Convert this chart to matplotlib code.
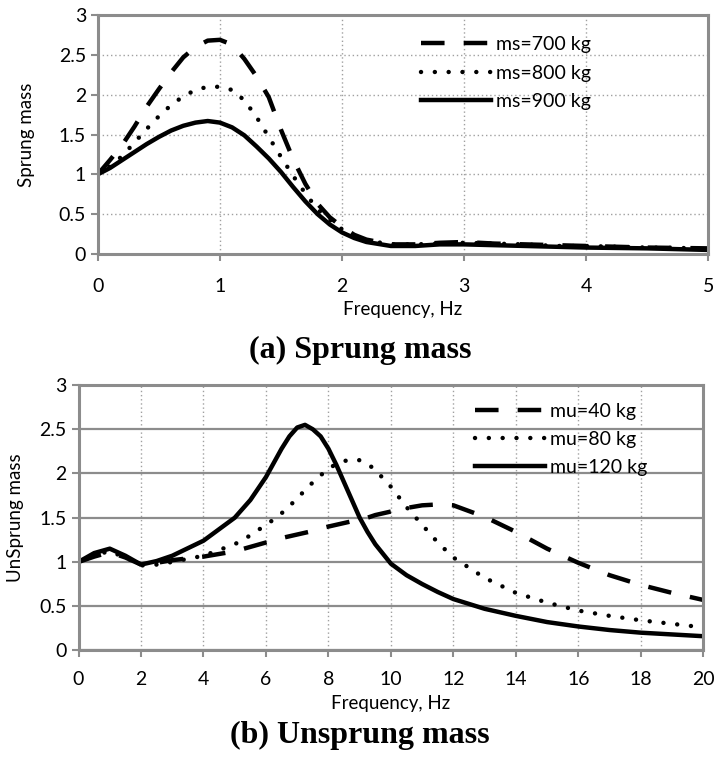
import numpy as np
import matplotlib
matplotlib.use("Agg")
import matplotlib.pyplot as plt

# ---- data ----
freq_a = [0, 0.1, 0.2, 0.3, 0.4, 0.5, 0.6, 0.7, 0.8, 0.9, 1.0, 1.1, 1.2, 1.3, 1.4, 1.5,
          1.6, 1.7, 1.8, 1.9, 2.0, 2.1, 2.2, 2.4, 2.6, 2.8, 3.0, 3.25, 3.5, 3.75, 4.0, 4.5, 5.0]
ms700 = [1.0, 1.18, 1.37, 1.6, 1.85, 2.07, 2.28, 2.47, 2.6, 2.68, 2.69, 2.63, 2.45, 2.23, 1.97, 1.56,
         1.19, 0.88, 0.63, 0.46, 0.34, 0.24, 0.18, 0.12, 0.12, 0.14, 0.15, 0.13, 0.12, 0.11, 0.1, 0.08, 0.07]
ms800 = [1.0, 1.1, 1.23, 1.4, 1.57, 1.73, 1.87, 1.98, 2.06, 2.1, 2.1, 2.06, 1.93, 1.72, 1.47, 1.22,
         0.98, 0.76, 0.56, 0.43, 0.31, 0.22, 0.17, 0.12, 0.12, 0.13, 0.14, 0.13, 0.12, 0.1, 0.1, 0.08, 0.07]
ms900 = [1.0, 1.08, 1.18, 1.28, 1.38, 1.47, 1.55, 1.61, 1.65, 1.67, 1.65, 1.59, 1.49, 1.35, 1.2, 1.03,
         0.84, 0.66, 0.5, 0.37, 0.27, 0.2, 0.15, 0.1, 0.1, 0.12, 0.12, 0.11, 0.1, 0.09, 0.08, 0.07, 0.05]

freq_b = [0, 0.5, 1, 1.5, 2, 2.5, 3, 4, 5, 5.5, 6, 6.25, 6.5, 6.75, 7, 7.25, 7.5, 7.75, 8,
          8.25, 8.5, 8.75, 9, 9.25, 9.5, 10, 10.5, 11, 11.5, 12, 13, 14, 15, 16, 17, 18, 19, 20]
mu40 = [1.0, 1.06, 1.11, 1.05, 0.97, 0.99, 1.02, 1.06, 1.12, 1.17, 1.22, 1.24, 1.27, 1.29, 1.31,
        1.33, 1.35, 1.38, 1.4, 1.42, 1.44, 1.46, 1.48, 1.5, 1.53, 1.57, 1.61, 1.64, 1.65, 1.64,
        1.51, 1.34, 1.15, 0.99, 0.85, 0.74, 0.65, 0.57]
mu80 = [1.0, 1.08, 1.12, 1.05, 0.96, 0.97, 1.0, 1.07, 1.2, 1.3, 1.42, 1.48, 1.55, 1.63, 1.72,
        1.81, 1.9, 1.98, 2.05, 2.11, 2.14, 2.16, 2.15, 2.11, 2.04, 1.85, 1.62, 1.42, 1.22, 1.05,
        0.82, 0.65, 0.54, 0.45, 0.39, 0.34, 0.3, 0.26]
mu120 = [1.0, 1.1, 1.15, 1.07, 0.97, 1.01, 1.07, 1.24, 1.5, 1.7, 1.96, 2.12, 2.28, 2.42, 2.52,
         2.55, 2.5, 2.42, 2.28, 2.1, 1.9, 1.7, 1.5, 1.34, 1.2, 0.98, 0.85, 0.75, 0.66, 0.58,
         0.47, 0.39, 0.32, 0.27, 0.23, 0.2, 0.18, 0.16]

labels_a = ["ms=700 kg", "ms=800 kg", "ms=900 kg"]
labels_b = ["mu=40 kg", "mu=80 kg", "mu=120 kg"]
ytick_labels = ["0", "0.5", "1", "1.5", "2", "2.5", "3"]

# ---- styles ----
font = "Lato"
gray = "#8c8c8c"
dashed = (0, (5.3, 4.3))
dotted = (0, (0.01, 3.1))
lw = 3.2


def style_axes(ax, solid_hgrid, xpad):
    for s in ax.spines.values():
        s.set_color(gray)
        s.set_linewidth(2.2)
    ax.tick_params(colors=gray, width=1.5, length=5, labelcolor="black", labelsize=14)
    ax.tick_params(axis="x", pad=xpad)
    for lab in ax.get_xticklabels() + ax.get_yticklabels():
        lab.set_fontfamily(font)
    ax.xaxis.grid(True, color="#a0a0a0", linestyle=(0, (1, 2)), linewidth=1)
    if solid_hgrid:
        ax.yaxis.grid(True, color=gray, linestyle="-", linewidth=1.6)
    else:
        ax.yaxis.grid(True, color="#a0a0a0", linestyle=(0, (1, 2)), linewidth=1)
    ax.set_axisbelow(True)


fig = plt.figure(figsize=(7.14, 7.58), dpi=100)

# (a) sprung mass
ax1 = fig.add_axes([0.137, 0.665, 0.855, 0.315])
ax1.plot(freq_a, ms700, color="black", lw=lw, linestyle=dashed, label=labels_a[0])
ax1.plot(freq_a, ms800, color="black", lw=lw, linestyle=dotted, dash_capstyle="round", label=labels_a[1])
ax1.plot(freq_a, ms900, color="black", lw=lw, linestyle="-", label=labels_a[2])
ax1.set_xlim(0, 5)
ax1.set_ylim(0, 3)
ax1.set_xticks(np.arange(0, 6, 1))
ax1.set_yticks(np.arange(0, 3.5, 0.5))
ax1.set_yticklabels(ytick_labels)
style_axes(ax1, solid_hgrid=False, xpad=12)
ax1.set_xlabel("Frequency, Hz", fontfamily=font, fontsize=13.5, labelpad=5)
ax1.set_ylabel("Sprung mass", fontfamily=font, fontsize=13.5)
ax1.yaxis.set_label_coords(-0.103, 0.5)
ax1.legend(loc="upper left", bbox_to_anchor=(0.5, 0.985), frameon=False, handlelength=3.6,
           handletextpad=0.3, labelspacing=0.58, prop={"family": font, "size": 14})
fig.text(0.504, 0.538, "(a) Sprung mass", ha="center", va="center",
         fontfamily="Liberation Serif", fontweight="bold", fontsize=23)

# (b) unsprung mass
ax2 = fig.add_axes([0.110, 0.142, 0.875, 0.350])
ax2.plot(freq_b, mu40, color="black", lw=lw, linestyle=dashed, label=labels_b[0])
ax2.plot(freq_b, mu80, color="black", lw=lw, linestyle=dotted, dash_capstyle="round", label=labels_b[1])
ax2.plot(freq_b, mu120, color="black", lw=lw, linestyle="-", label=labels_b[2])
ax2.set_xlim(0, 20)
ax2.set_ylim(0, 3)
ax2.set_xticks(np.arange(0, 22, 2))
ax2.set_yticks(np.arange(0, 3.5, 0.5))
ax2.set_yticklabels(ytick_labels)
style_axes(ax2, solid_hgrid=True, xpad=10)
ax2.set_xlabel("Frequency, Hz", fontfamily=font, fontsize=13.5, labelpad=5)
ax2.set_ylabel("UnSprung mass", fontfamily=font, fontsize=13.5)
ax2.yaxis.set_label_coords(-0.088, 0.5)
ax2.legend(loc="upper left", bbox_to_anchor=(0.606, 1.0), frameon=False, handlelength=3.6,
           handletextpad=0.3, labelspacing=0.58, prop={"family": font, "size": 14})
fig.text(0.504, 0.030, "(b) Unsprung mass", ha="center", va="center",
         fontfamily="Liberation Serif", fontweight="bold", fontsize=23)

fig.savefig("out.png", dpi=100)
